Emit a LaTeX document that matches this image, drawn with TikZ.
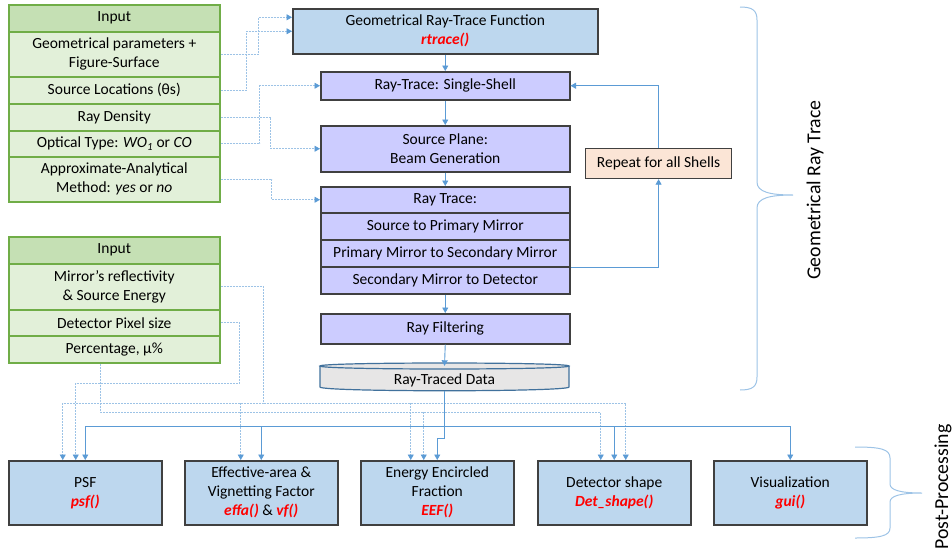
\documentclass[tikz,border=0pt]{standalone}
\usepackage{fontspec}
\setmainfont{Carlito}
\usetikzlibrary{arrows.meta,calc}
\definecolor{grnhead}{HTML}{C5E0B4}
\definecolor{grnrow}{HTML}{E2F0D9}
\definecolor{grnline}{HTML}{70AD47}
\definecolor{boxblue}{HTML}{BDD7EE}
\definecolor{lav}{HTML}{CCCCFF}
\definecolor{peach}{HTML}{FBE5D6}
\definecolor{edge}{HTML}{404040}
\definecolor{arrblue}{HTML}{5B9BD5}
\definecolor{dotblue}{HTML}{9DC3E6}
\definecolor{cylfill}{HTML}{E7E6E6}
\definecolor{cyledge}{HTML}{41719C}
\definecolor{fnred}{HTML}{FF0000}
\newcommand{\fnname}[1]{\textcolor{fnred}{\bfseries\itshape #1}}
\begin{document}
\begin{tikzpicture}[x=1pt,y=-1pt,
  every node/.style={font=\fontsize{15.5}{19}\selectfont, inner sep=0pt, align=center, text=black},
  inrow/.style={draw=grnline, fill=grnrow, line width=1.5pt, minimum width=211, anchor=north west},
  inhead/.style={inrow, fill=grnhead},
  bluebox/.style={draw=edge, fill=boxblue, line width=1.5pt, anchor=north west},
  lavbox/.style={draw=edge, fill=lav, line width=1.5pt, minimum width=249, anchor=north west},
  peachbox/.style={draw=edge, fill=peach, line width=1.2pt, anchor=north west},
  outbox/.style={bluebox, minimum width=153, minimum height=64},
  tip/.style={-{Triangle[length=5.5pt,width=6pt,color=arrblue]}},
  solc/.style={draw=arrblue, line width=0.9pt, tip},
  dotc/.style={draw=dotblue, line width=0.9pt, dash pattern=on 2pt off 1pt, tip},
  brc/.style={draw=dotblue, line width=1pt},
  bracelabel/.style={rotate=90, font=\fontsize{19.8}{23}\selectfont}]
\useasboundingbox (0,0) rectangle (952,557);

% Input table 1
\node[inhead, minimum height=27] (h1) at (8,4) {Input};
\node[inrow, minimum height=45] (i1) at (8,31) {Geometrical parameters +\\Figure-Surface};
\node[inrow, minimum height=27] (i2) at (8,76) {Source Locations (θs)};
\node[inrow, minimum height=27] (i3) at (8,103) {Ray Density};
\node[inrow, minimum height=26] (i4) at (8,130) {Optical Type: \textit{WO\textsubscript{1}} or \textit{CO}};
\node[inrow, minimum height=45] (i5) at (8,156) {Approximate-Analytical\\Method: \textit{yes} or \textit{no}};

% Input table 2
\node[inhead, minimum height=27] (h2) at (8,236) {Input};
\node[inrow, minimum height=46] (m1) at (8,263) {Mirror’s reflectivity\\\& Source Energy};
\node[inrow, minimum height=26] (m2) at (8,309) {Detector Pixel size};
\node[inrow, minimum height=27] (m3) at (8,335) {Percentage, µ\%};

% Main column
\node[bluebox, minimum width=305, minimum height=45] (grt) at (292,8) {Geometrical Ray-Trace Function\\\fnname{rtrace()}};
\node[lavbox, minimum height=28] (ss) at (320,71) {Ray-Trace: Single-Shell};
\node[lavbox, minimum height=46] (sp) at (320,125) {Source Plane:\\Beam Generation};
\node[lavbox, minimum height=26] (rt0) at (320,186) {Ray Trace:};
\node[lavbox, minimum height=27] (rt1) at (320,212) {Source to Primary Mirror};
\node[lavbox, minimum height=27] (rt2) at (320,239) {Primary Mirror to Secondary Mirror};
\node[lavbox, minimum height=27] (rt3) at (320,266) {Secondary Mirror to Detector};
\node[lavbox, minimum height=30] (rf) at (320,313) {Ray Filtering};

% Cylinder
\path[fill=cylfill, draw=cyledge, line width=1.2pt] (320,366) -- (320,387) .. controls (320,392) and (569,392) .. (569,387) -- (569,366);
\path[fill=cylfill, draw=cyledge, line width=1.2pt] (320,366) .. controls (320,362) and (569,362) .. (569,366) .. controls (569,370) and (320,370) .. (320,366) -- cycle;
\node[minimum width=249, minimum height=28] (cyl) at (444.5,377) {};
\node (cyltext) at (444.5,380) {Ray-Traced Data};
\coordinate (cyltop) at ($(cyl.north)+(0,3)$);

% Repeat box
\node[peachbox, minimum width=146, minimum height=30] (rep) at (585,148) {Repeat for all Shells};

% Output boxes
\node[outbox] (psf) at (8,460) {PSF\\\fnname{psf()}};
\node[outbox] (eff) at (184,460) {Effective-area \&\\Vignetting Factor\\\fnname{effa()} \& \fnname{vf()}};
\node[outbox] (eef) at (360,460) {Energy Encircled\\Fraction\\\fnname{EEF()}};
\node[outbox] (det) at (537,460) {Detector shape\\\fnname{Det\_shape()}};
\node[outbox] (vis) at (713,460) {Visualization\\\fnname{gui()}};

% Main vertical flow
\draw[solc] (grt.south) -- (ss.north);
\draw[solc] (ss.south) -- (sp.north);
\draw[solc] (sp.south) -- (rt0.north);
\draw[solc] (rt3.south) -- (rf.north);
\draw[solc] (rf.south) -- (cyltop);

% Repeat loop
\draw[solc] (rt2.south east) -| (rep.south);
\draw[solc] (rep.north) |- (ss.east);

% Input 1 connectors
\draw[dotc] (i1.east) -- ++(38,0) |- ($(grt.north west)!0.2!(grt.south west)$);
\draw[dotc] (i2.east) -- ++(26,0) |- (grt.west);
\draw[dotc] (i3.east) -- ++(50,0) |- (sp.west);
\draw[dotc] (i4.east) -- ++(39,0) |- (ss.west);
\draw[dotc] (i5.east) -- ++(51,0) |- (rt0.west);

% Bottom bus coordinates
\coordinate (yA) at ($(psf.north)+(0,-57)$);
\coordinate (yB) at ($(psf.north)+(0,-48)$);
\coordinate (yC) at ($(psf.north)+(0,-77)$);
\coordinate (yD) at ($(psf.north)+(0,-34)$);
\coordinate (psfA) at ($(psf.north)+(-22.5,0)$);
\coordinate (psfC) at ($(psf.north)+(-9.5,0)$);
\coordinate (effA) at ($(eff.north)+(-20.5,0)$);
\coordinate (eefA) at ($(eef.north)+(-26.5,0)$);
\coordinate (eefB) at ($(eef.north)+(-13.5,0)$);
\coordinate (detB) at ($(det.north)+(-13.5,0)$);
\coordinate (detA) at ($(det.north)+(11.5,0)$);
\coordinate (a1) at ($(m1.east)+(43,0)$);
\coordinate (b0) at ($(m3.south)+(-13.5,0)$);

% Input 2 connectors
\draw[dotc] (m1.east) -- (a1) |- (yA -| psfA) -- (psfA);
\draw[dotc] (a1 |- yA) -| (detA);
\draw[dotc] (yA -| effA) -- (effA);
\draw[dotc] (yA -| eefA) -- (eefA);
\draw[dotc] (b0) |- (yB -| detB) -- (detB);
\draw[dotc] (yB -| eefB) -- (eefB);
\draw[dotc] (m2.east) -- ++(19,0) |- (yC -| psfC) -- (psfC);

% Data to post-processing
\draw[solc] (cyl.south) |- (yD -| psf.north) -- (psf.north);
\draw[solc] (cyl.south |- yD) -| (vis.north);
\draw[solc] (yD -| eff.north) -- (eff.north);
\draw[solc] (yD -| det.north) -- (det.north);
\draw[solc] (cyl.south) -- ++(0,47) -| (eef.north);

% Braces
\draw[brc] (740,7) .. controls (752,7) and (757,10) .. (757,20) -- (757,182) .. controls (757,192) and (770,195) .. (793,195) .. controls (770,195) and (757,198) .. (757,208) -- (757,377) .. controls (757,387) and (752,390) .. (740,390);
\draw[brc] (855,447) .. controls (880,447) and (890,449) .. (890,458) -- (890,484) .. controls (890,490) and (900,493) .. (922,493) .. controls (900,493) and (890,496) .. (890,502) -- (890,528) .. controls (890,536) and (880,538) .. (855,538);
\node[bracelabel] (lblG) at (815,190) {Geometrical Ray Trace};
\node[bracelabel] (lblP) at (943,487) {Post-Processing};
\end{tikzpicture}
\end{document}
